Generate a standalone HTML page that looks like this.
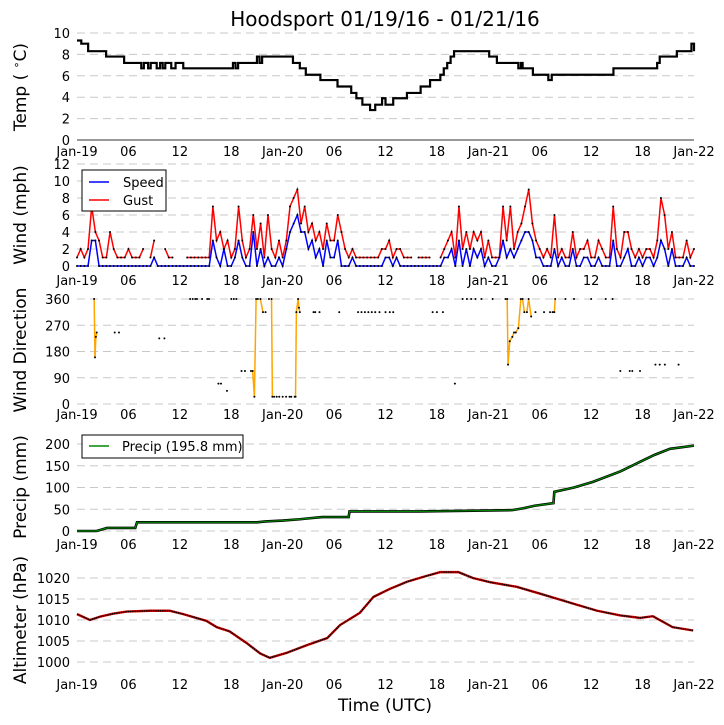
<!DOCTYPE html>
<html><head><meta charset="utf-8"><style>
body{margin:0;background:#fff;}
svg{display:block;font-family:"DejaVu Sans","Liberation Sans",sans-serif;}
</style></head><body>
<svg id="c" width="724" height="725" viewBox="0 0 724 725" xmlns="http://www.w3.org/2000/svg">
<text x="385" y="26" font-size="20" text-anchor="middle">Hoodsport 01/19/16 - 01/21/16</text>
<g id="root"></g>
<text x="385" y="711" font-size="17" text-anchor="middle">Time (UTC)</text>
</svg>
<script>
const xTickLabels=["Jan-19","06","12","18","Jan-20","06","12","18","Jan-21","06","12","18","Jan-22"];
const tempHours=[0,0.5,1.3,3.4,5.5,7.5,7.8,8.3,8.6,9.3,9.7,10,10.3,11,11.5,12.4,18.2,18.5,18.8,21,21.3,21.6,22,25.2,26,26.7,28.4,30.4,32,32.6,33.3,34.2,34.8,35.6,36,36.9,38.5,40.1,41.2,42.4,42.8,43.2,43.6,44,44.7,48.1,49,51.5,51.8,52,53.2,55,55.4,62.4,62.6,65,67.7,68,70,71.7,72];
const tempVals=[9.3,9.0,8.3,7.8,7.2,6.7,7.2,6.7,7.2,6.7,7.2,6.7,7.2,6.7,7.2,6.7,7.2,6.7,7.2,7.8,7.2,7.8,7.8,7.2,6.7,6.1,5.6,5.0,4.4,3.9,3.3,2.8,3.3,3.9,3.3,3.9,4.4,5.0,5.6,6.1,6.7,7.2,7.8,8.3,8.3,7.8,7.2,6.7,7.2,6.7,6.1,5.6,6.1,6.1,6.7,6.7,7.2,7.8,8.3,9.0,8.3];
const gustVals=[1,2,1,2,7,4,3,1,1,4,2,1, 1,1,2,1,1,1,2,null,1,3,null,null, 2,1,1,null,null,null,1,1,1,1,1,1, 1,7,3,4,2,3,1,2,7,3,1,2, 6,2,5,1,6,2,1,3,1,3,7,8, 9,5,7,4,5,3,4,2,5,3,3,6, 4,2,1,2,1,1,1,1,1,1,1,2, 2,3,1,2,2,1,1,1,null,1,1,1, 1,null,null,1,2,3,4,1,7,2,4,2, 4,3,4,1,3,1,1,1,7,3,7,2, 4,5,7,9,5,3,2,1,2,1,6,1, 2,1,1,4,1,2,2,3,1,1,3,2, 1,1,7,2,1,4,4,2,1,2,1,2, 2,1,3,8,6,2,4,1,1,1,3,1, 2];
const speedVals=[0,0,0,0,3,3,0,0,0,0,0,0, 0,0,0,0,0,0,0,0,0,1,0,0, 0,0,0,0,0,0,0,0,0,0,0,0, 0,3,1,0,2,0,0,1,3,1,0,0, 4,0,2,0,1,0,0,1,0,2,4,5, 6,4,4,2,3,1,2,0,3,1,1,3, 0,0,0,1,0,0,0,0,0,0,0,0, 1,1,0,1,0,0,0,0,0,0,0,0, 0,0,0,0,1,1,2,0,3,0,2,0, 2,1,2,0,1,0,0,1,3,1,2,1, 2,3,4,4,3,1,1,0,0,0,2,0, 1,0,0,2,0,0,1,1,0,0,1,0, 0,0,3,0,0,1,2,0,0,1,0,1, 1,0,1,3,2,0,2,0,0,0,1,0, 0];
const dirHours=[2,2.1,2.2,2.3,4.4,4.9,9.6,10.2,13.2,13.5,13.8,14,14.6,15.2,15.4,16.5,16.8,17.5,18.0,18.3,18.6,19.2,19.6,20.3,20.5,20.7,20.9,21.1,21.4,21.7,22,22.4,22.7,22.8,23,23.3,23.6,24,24.4,24.8,25,25.4,25.5,25.6,25.8,25.9,26,27.6,27.8,28.3,30.6,32.8,33.2,33.6,34,34.4,34.8,35.3,36,36.5,36.9,41.5,42,42.7,44.1,45,45.5,46,46.5,47.2,48.5,50,50.2,50.3,50.5,50.8,51,51.2,51.5,51.8,52,52.2,52.5,52.7,53,53.5,54.5,55.2,55.5,55.7,55.8,57,58,60,61.7,62.5,63.4,64.5,64.8,65.7,67.5,68,68.6,70.2];
const dirVals=[360,160,230,245,245,245,225,225,360,360,360,360,360,360,360,70,70,45,360,360,360,113,113,113,113,25,360,360,360,315,315,360,360,25,25,25,25,25,25,25,25,25,25,315,360,330,315,315,315,315,315,315,315,315,315,315,315,315,315,315,315,315,315,315,70,360,360,360,360,360,360,360,360,135,215,230,245,245,260,360,360,315,315,360,300,315,315,315,315,315,360,360,360,360,360,360,113,113,113,113,135,135,135,135];
const precipHours=[0,2.3,3,3.5,6.8,7,21,22,24,26,27,28.6,31.7,31.8,40,50.8,52,53.4,55.6,55.7,58,60.2,63.4,65.7,67.4,69.2,71.9,72];
const precipVals=[0,0,4,7,7,20,20,22,24,27,29,32,32,45,45,48,52,58,64,90,100,113,137,159,175,189,196,196];
const altHours=[0,1.5,2.7,4.2,5.8,8.5,10.8,12.4,15.1,16.3,17.8,19.8,21.4,22.5,24.5,26.8,29.2,30.7,33,34.6,36.5,38.5,40.8,42.4,44.5,46.2,48.2,51.3,54,57.9,60.7,63.4,65.7,67.2,69.5,71.9];
const altVals=[1011.4,1010,1010.8,1011.5,1012,1012.2,1012.2,1011.4,1009.8,1008.3,1007.3,1004.5,1002,1001,1002.2,1004,1005.7,1008.8,1011.7,1015.5,1017.4,1019.1,1020.5,1021.4,1021.4,1020,1019,1017.9,1016.3,1013.9,1012.2,1011.1,1010.5,1010.9,1008.3,1007.5];

const NS="http://www.w3.org/2000/svg";
const root=document.getElementById('root');
const X0=77,X1=694;
function xs(h){return X0+h*(X1-X0)/72;}
function mk(tag,attrs,parent){const e=document.createElementNS(NS,tag);for(const k in attrs)e.setAttribute(k,attrs[k]);(parent||root).appendChild(e);return e;}
const panels=[
 {name:'temp',top:33,bot:140,min:0,max:10,ticks:[0,2,4,6,8,10],labY:156,title:'Temp',tx:26,ty:87},
 {name:'wind',top:164,bot:266,min:0,max:12,ticks:[0,2,4,6,8,10,12],labY:285,title:'Wind (mph)',tx:26,ty:215},
 {name:'direction',top:299,bot:404,min:0,max:360,ticks:[0,90,180,270,360],labY:419,title:'Wind Direction',tx:26,ty:350},
 {name:'precip',top:444,bot:531,min:0,max:200,ticks:[0,50,100,150,200],labY:549,title:'Precip (mm)',tx:26,ty:487},
 {name:'altimeter',top:578,bot:662,min:1000,max:1020,ticks:[1000,1005,1010,1015,1020],labY:689,title:'Altimeter (hPa)',tx:26,ty:620}
];
panels.forEach(p=>{
 p.ys=v=>p.bot-(v-p.min)*(p.bot-p.top)/(p.max-p.min);
 const g=mk('g',{});
 
 
 p.ticks.forEach(t=>{
  const y=p.ys(t);
  const gl=mk('line',{x1:X0,x2:X1,y1:y,y2:y,stroke:'#c8c8c8','stroke-dasharray':'8,5','stroke-width':1},g);
  
  
  const tl=mk('text',{x:70,y:y+5,'font-size':13,'text-anchor':'end'},g);
  tl.textContent=t;
  
  
 });
 xTickLabels.forEach((lab,i)=>{
  const t=mk('text',{x:xs(i*6),y:p.labY,'font-size':13,'text-anchor':'middle'},g);
  t.textContent=lab;
  
  
 });
 const yt=mk('text',{x:p.tx,y:p.ty,'font-size':17,'text-anchor':'middle',transform:`rotate(-90 ${p.tx} ${p.ty})`},g);
 if(p.name==='temp'){yt.innerHTML='Temp ( <tspan font-size="11" dy="-6">∘</tspan><tspan dy="6">C)</tspan>';}
 else yt.textContent=p.title;
 
 
 p.g=g;
});
function dots(g,pts,r){pts.forEach(q=>{const c=mk('circle',{cx:q[0],cy:q[1],r:r||1,fill:'#000'},g);});}
(function(){const p=panels[0];
 mk('line',{x1:X0,x2:X1,y1:p.bot,y2:p.bot,stroke:'#333','stroke-width':1},p.g);
 let d='';
 tempHours.forEach((h,i)=>{const x=xs(h),y=p.ys(tempVals[i]);if(i===0)d=`M${x},${y}`;else d+=` H${x} V${y}`;});
 const l=mk('path',{d:d,fill:'none',stroke:'#000','stroke-width':2.2},p.g);
 
 
})();
(function(){const p=panels[1];
 function series(vals,color,name){let d='',pen=false,pts=[];const step=72/(vals.length-1);
  vals.forEach((v,i)=>{if(v===null){pen=false;return;}const x=xs(i*step),y=p.ys(v);d+=(pen?' L':' M')+x+','+y;pen=true;pts.push([x,y]);});
  const l=mk('path',{d:d,fill:'none',stroke:color,'stroke-width':1.5},p.g);
  
  
  dots(p.g,pts,1);}
 series(gustVals,'#f00','gust-line');
 series(speedVals,'#00f','speed-line');
 const lg=mk('g',{},p.g);
 
 
 mk('rect',{x:82,y:170,width:84,height:41,fill:'#fff',stroke:'#000','stroke-width':1},lg);
 mk('line',{x1:89,x2:109,y1:182,y2:182,stroke:'#00f','stroke-width':1.5},lg);
 mk('line',{x1:89,x2:109,y1:200,y2:200,stroke:'#f00','stroke-width':1.5},lg);
 const a=mk('text',{x:123,y:187,'font-size':13},lg);a.textContent='Speed';
 
 const b=mk('text',{x:123,y:205,'font-size':13},lg);b.textContent='Gust';
 
})();
(function(){const p=panels[2];let pts=[];
 dirHours.forEach((h,i)=>{pts.push([xs(h),p.ys(dirVals[i])]);});
 for(let i=1;i<pts.length;i++){if(dirHours[i]-dirHours[i-1]<0.35 && dirVals[i]!==dirVals[i-1]){
  const l=mk('line',{x1:pts[i-1][0],y1:pts[i-1][1],x2:pts[i][0],y2:pts[i][1],stroke:'#ffa500','stroke-width':1.5},p.g);
  }}
 dots(p.g,pts,1);
})();
(function(){const p=panels[3];let d='';
 precipHours.forEach((h,i)=>{d+=(i?' L':'M')+xs(h)+','+p.ys(precipVals[i]);});
 const l=mk('path',{d:d,fill:'none',stroke:'#000','stroke-width':2.6},p.g);
 
 const l2=mk('path',{d:d,fill:'none',stroke:'#080','stroke-width':1.2},p.g);
 
 const lg=mk('g',{},p.g);
 
 mk('rect',{x:82,y:435,width:161,height:23,fill:'#fff',stroke:'#000','stroke-width':1},lg);
 mk('line',{x1:89,x2:109,y1:446,y2:446,stroke:'#080','stroke-width':1.5},lg);
 const t=mk('text',{x:122,y:451,'font-size':13},lg);t.textContent='Precip (195.8 mm)';
 
})();
(function(){const p=panels[4];let d='';
 altHours.forEach((h,i)=>{d+=(i?' L':'M')+xs(h)+','+p.ys(altVals[i]);});
 const l=mk('path',{d:d,fill:'none',stroke:'#c00','stroke-width':2.4},p.g);
 
 const l2=mk('path',{d:d,fill:'none',stroke:'#000','stroke-width':1.3,'stroke-dasharray':'1.5,0.8'},p.g);
 
})();
</script>
</body></html>
